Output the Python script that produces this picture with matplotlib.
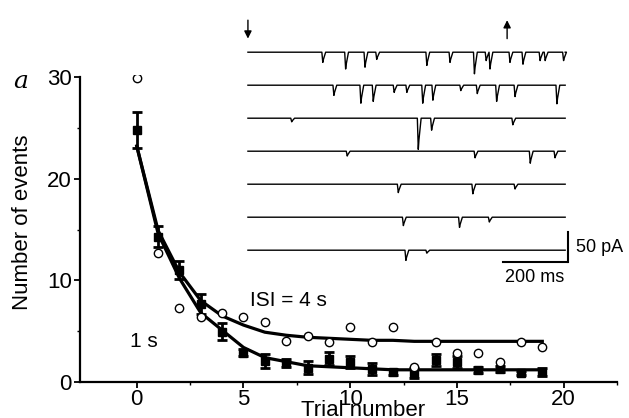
import matplotlib
matplotlib.use("Agg")
import matplotlib.pyplot as plt

plt.rcParams.update({
    "font.size": 16,
    "font.family": ["Liberation Sans", "DejaVu Sans"],
})

# -------- main data: number of events per trial --------
trials = list(range(20))

# ISI = 4 s, open circles
isi4_events = [29.9, 12.7, 7.3, 6.4, 6.8, 6.4, 5.9, 4.0, 4.5, 3.9,
               5.4, 3.9, 5.4, 1.5, 3.9, 2.9, 2.9, 2.0, 3.9, 3.4]

# ISI = 1 s, filled squares with error bars
isi1_events = [24.8, 14.3, 11.0, 7.7, 4.95, 2.9, 2.1, 1.9, 1.4, 2.3,
               2.0, 1.3, 1.0, 0.9, 2.2, 2.0, 1.2, 1.3, 0.9, 1.0]
isi1_err = [1.8, 1.0, 0.9, 1.0, 0.85, 0.3, 0.7, 0.4, 0.65, 0.65,
            0.6, 0.6, 0.3, 0.5, 0.6, 0.6, 0.3, 0.3, 0.2, 0.4]

# fitted curves, read at integer trials
fit4 = [23.2, 14.9, 10.8, 8.0, 6.5, 5.6, 4.9, 4.6, 4.4, 4.3,
        4.2, 4.1, 4.1, 4.0, 4.0, 4.0, 4.0, 4.0, 4.0, 4.0]
fit1 = [23.2, 14.6, 10.2, 6.8, 5.1, 3.4, 2.4, 2.0, 1.6, 1.5,
        1.4, 1.3, 1.2, 1.2, 1.2, 1.2, 1.2, 1.2, 1.2, 1.2]

# -------- inset: example current traces (event time ms, amplitude pA) --------
trace_events = [
    ([236, 308, 369, 406, 564, 637, 714, 751, 763, 826, 867, 921, 937, 995],
     [17, 28, 25, 12, 22, 17, 36, 14, 28, 17, 20, 14, 14, 14]),
    ([271, 356, 395, 461, 501, 551, 583, 671, 723, 784, 842, 974],
     [17, 30, 27, 12, 12, 30, 25, 9, 14, 27, 19, 31]),
    ([138, 537, 579, 835], [6, 52, 20, 11]),
    ([313, 716, 890, 968], [8, 11, 20, 11]),
    ([474, 709, 842], [14, 16, 8]),
    ([490, 667, 761], [14, 17, 8]),
    ([498, 564], [17, 5]),
]
trace_duration = 1000   # ms
trace_spacing = 55      # pA
stim_on = 0             # ms, down arrow
stim_off = 817          # ms, up arrow

W, H = 629, 418
fig = plt.figure(figsize=(W / 100, H / 100), dpi=100)

# main axes placed by pixel edges
ax = fig.add_axes([80 / W, (H - 382) / H, 537 / W, 307 / H])
ax.plot(trials, fit4, color="black", lw=2.3, zorder=2)
ax.plot(trials, fit1, color="black", lw=2.3, zorder=2)
ax.errorbar(trials, isi1_events, yerr=isi1_err, fmt="s", color="black",
            ms=6, capsize=3.5, elinewidth=2, capthick=2, zorder=3)
ax.plot(trials, isi4_events, "o", mfc="white", mec="black", ms=6,
        mew=1.0, zorder=4)

ax.set_xlim(-2.66, 22.4)
ax.set_ylim(0, 30.2)
ax.set_xticks([0, 5, 10, 15, 20])
ax.set_yticks([0, 10, 20, 30])
ax.set_xticks([2.5, 7.5, 12.5, 17.5, 22.5], minor=True)
ax.set_yticks([5, 15, 25], minor=True)
ax.tick_params(which="major", length=4, width=1.3, pad=2)
ax.tick_params(axis="x", which="major", pad=1)
ax.tick_params(which="minor", length=2, width=1.0)
for s in ["top", "right"]:
    ax.spines[s].set_visible(False)
for s in ["left", "bottom"]:
    ax.spines[s].set_linewidth(1.6)
ax.spines["left"].set_bounds(0, 30)

ax.set_ylabel("Number of events")
ax.set_xlabel("Trial number")
ax.yaxis.set_label_coords(-0.088, 0.52)
ax.xaxis.set_label_coords(0.527, -0.06)
ax.xaxis.label.set_va("top")

ax.text(5.3, 8.0, "ISI = 4 s", va="center", ha="left", fontsize=15)
ax.text(-0.3, 4.0, "1 s", va="center", ha="left", fontsize=15)
fig.text(13 / W, (H - 88) / H, "a", family="DejaVu Serif",
         style="italic", fontsize=18)

# -------- inset traces --------
ins = fig.add_axes([240 / W, (H - 270) / H, 335 / W, 255 / H])
ins.set_xlim(-25, 1031)
ins.set_ylim(-363, 62)
ins.axis("off")

for i, (times, amps) in enumerate(trace_events):
    base = -i * trace_spacing
    xs, ys = [0], [base]
    for t, a in zip(times, amps):
        xs += [t - 3, t, t + 2, t + 9]
        ys += [base, base - a, base - a * 0.7, base]
    xs.append(trace_duration)
    ys.append(base)
    ins.plot(xs, ys, color="black", lw=1.0)

ins.annotate("", xy=(stim_on, 18), xytext=(stim_on, 58),
             arrowprops=dict(arrowstyle="-|>", color="black", lw=1.0,
                             mutation_scale=11), annotation_clip=False)
ins.annotate("", xy=(stim_off, 58), xytext=(stim_off, 18),
             arrowprops=dict(arrowstyle="-|>", color="black", lw=1.0,
                             mutation_scale=11), annotation_clip=False)

# scale bars: 200 ms, 50 pA
bar_y = -350
ins.plot([805, 1005], [bar_y, bar_y], color="black", lw=1.5, clip_on=False)
ins.plot([1010, 1010], [bar_y, bar_y + 50], color="black", lw=1.5,
         clip_on=False)
ins.text(905, bar_y - 12, "200 ms", ha="center", va="top", fontsize=13)
ins.text(1035, bar_y + 25, "50 pA", ha="left", va="center", fontsize=13,
         clip_on=False)

fig.savefig("out.png", dpi=100)
